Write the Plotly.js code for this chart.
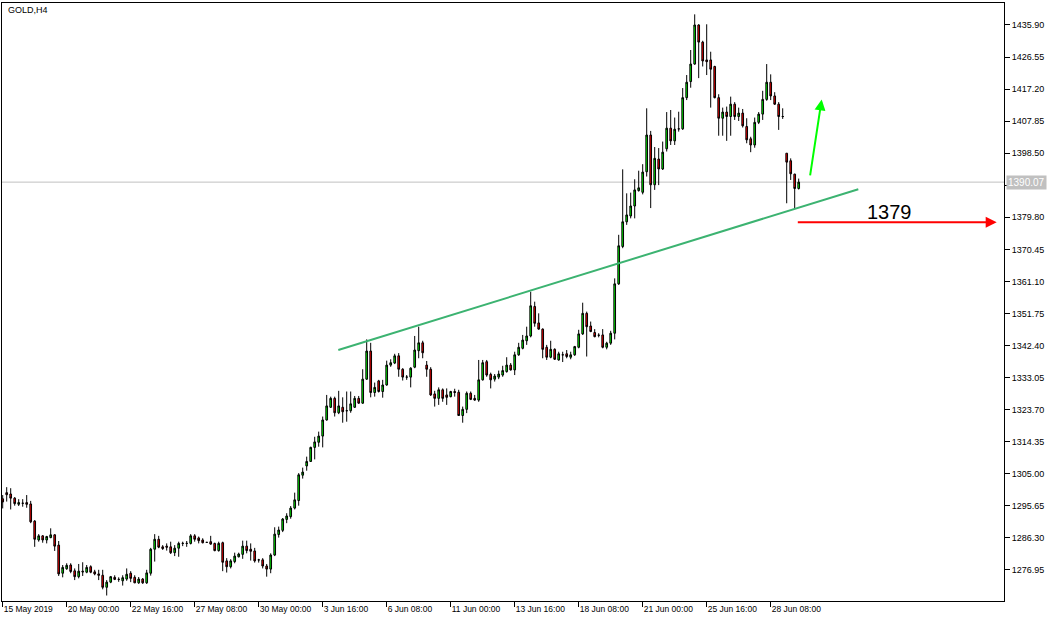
<!DOCTYPE html>
<html>
<head>
<meta charset="utf-8">
<script src="https://cdn.plot.ly/plotly-3.0.1.min.js"></script>
<style>
  html, body { margin: 0; padding: 0; background: #ffffff; }
  #chart { width: 1057px; height: 622px; }
</style>
</head>
<body>
<div id="chart"></div>
<script>
// ---- DATA (GOLD, H4) ----
const openP = [
1297.7,1299.5,1299.1,1297.9,1296.1,1296.4,1296.6,1296.2,1291.2,1285.7,
1286.9,1285.7,1286.4,1287.2,1284.2,1276.0,1277.3,1278.4,1276.7,1275.0,
1276.6,1276.3,1277.9,1276.4,1275.8,1275.4,1271.9,1273.4,1274.8,1274.2,
1273.8,1274.3,1276.0,1274.8,1273.2,1274.3,1273.2,1276.0,1283.0,1285.9,
1283.7,1283.9,1283.7,1282.0,1283.3,1284.7,1284.7,1284.7,1286.9,1286.3,
1285.7,1285.0,1285.2,1284.7,1282.6,1284.9,1279.6,1277.9,1279.4,1280.8,
1281.5,1283.9,1283.0,1282.5,1279.9,1279.9,1278.1,1277.2,1281.3,1287.3,
1288.5,1291.7,1292.5,1295.0,1297.2,1304.6,1307.3,1308.6,1312.7,1314.2,
1316.0,1320.7,1324.4,1327.0,1322.8,1324.4,1323.4,1323.4,1324.4,1327.0,
1325.6,1332.6,1340.8,1328.7,1332.1,1329.0,1330.9,1336.7,1337.3,1339.4,
1335.5,1333.2,1333.2,1336.1,1340.9,1343.2,1336.7,1335.5,1328.3,1327.0,
1329.5,1328.0,1327.5,1329.0,1328.8,1322.0,1323.8,1328.5,1327.0,1326.5,
1332.4,1337.7,1334.0,1332.6,1333.2,1333.8,1334.8,1336.7,1335.3,1339.7,
1341.6,1343.8,1345.2,1353.8,1349.0,1347.2,1341.9,1339.0,1341.3,1338.2,
1339.7,1340.0,1339.0,1339.7,1341.9,1345.8,1351.8,1348.1,1346.2,1345.4,
1345.5,1341.9,1343.1,1346.0,1360.4,1371.3,1378.5,1380.2,1383.1,1387.6,
1387.1,1393.1,1403.8,1389.3,1396.8,1393.9,1399.8,1405.8,1402.1,1405.6,
1405.6,1414.7,1419.4,1424.5,1435.9,1430.9,1425.7,1425.7,1423.8,1414.7,
1408.7,1410.5,1409.2,1412.8,1409.2,1410.2,1406.3,1402.7,1400.9,1407.5,
1409.9,1414.2,1419.2,1415.2,1412.8,1409.2,1398.5,1396.3,1392.4,1388.2
];
const highP = [
1298.8,1301.1,1300.8,1298.2,1297.6,1297.6,1298.8,1297.1,1291.5,1287.4,
1287.1,1286.9,1289.1,1287.4,1285.4,1278.4,1278.9,1278.9,1277.4,1278.7,
1279.2,1278.4,1278.3,1277.0,1277.0,1277.0,1274.0,1275.2,1275.4,1274.8,
1275.4,1277.4,1276.6,1275.4,1274.9,1274.6,1277.0,1283.4,1287.4,1286.9,
1284.2,1284.7,1285.2,1284.2,1285.2,1285.2,1285.4,1287.4,1287.4,1286.7,
1286.2,1285.1,1286.9,1284.9,1285.2,1285.2,1280.4,1280.1,1282.0,1282.0,
1285.5,1285.5,1284.7,1283.4,1280.2,1280.4,1278.7,1281.8,1289.4,1289.6,
1292.1,1293.5,1295.6,1299.5,1305.2,1306.8,1310.0,1312.9,1315.8,1317.3,
1321.7,1328.0,1327.5,1327.5,1329.2,1327.3,1329.0,1329.0,1327.7,1327.7,
1335.5,1344.2,1343.2,1331.6,1332.4,1332.4,1338.0,1338.4,1340.0,1340.2,
1335.8,1333.8,1336.1,1345.2,1347.9,1343.8,1337.9,1336.1,1329.2,1330.2,
1329.9,1329.9,1329.2,1329.8,1329.5,1324.6,1329.0,1329.0,1328.0,1338.2,
1338.2,1338.2,1334.5,1334.1,1335.1,1336.5,1339.0,1337.3,1340.6,1343.2,
1345.5,1347.9,1358.1,1355.2,1351.8,1347.4,1342.6,1343.8,1341.6,1340.6,
1340.6,1341.1,1340.6,1342.3,1347.0,1354.9,1352.3,1349.4,1347.2,1346.0,
1347.2,1343.5,1346.7,1362.0,1374.7,1393.8,1386.8,1387.0,1390.9,1393.4,
1395.3,1411.6,1405.0,1400.3,1400.0,1401.9,1410.5,1411.1,1408.9,1410.6,
1417.5,1421.3,1428.6,1439.0,1436.1,1431.3,1436.1,1428.1,1424.0,1415.7,
1411.8,1412.1,1415.0,1413.4,1411.8,1411.4,1408.7,1403.3,1408.9,1410.5,
1416.7,1424.5,1421.5,1416.3,1413.4,1411.6,1398.5,1397.0,1392.5,1391.1
];
const lowP = [
1294.9,1296.9,1294.6,1295.7,1295.6,1295.4,1295.1,1290.6,1283.7,1285.2,
1284.9,1284.7,1286.2,1282.5,1275.2,1274.8,1277.0,1276.0,1274.0,1274.5,
1275.2,1276.0,1276.0,1275.4,1274.0,1271.3,1269.5,1273.1,1274.0,1273.5,
1272.4,1273.8,1273.4,1273.1,1272.9,1272.9,1272.9,1275.3,1279.4,1283.3,
1282.8,1282.6,1281.6,1281.0,1280.8,1283.9,1283.7,1284.4,1285.2,1284.7,
1284.7,1284.9,1284.3,1282.4,1282.3,1276.6,1276.2,1277.4,1278.9,1280.6,
1280.2,1281.8,1279.7,1279.1,1279.1,1277.4,1275.0,1276.0,1281.0,1286.4,
1288.0,1290.6,1291.9,1294.6,1295.7,1303.6,1305.9,1308.5,1309.2,1312.9,
1312.7,1320.5,1324.2,1321.7,1322.4,1319.9,1320.2,1322.8,1324.2,1325.4,
1325.4,1332.4,1327.3,1327.5,1328.7,1327.2,1330.7,1336.2,1337.0,1333.3,
1332.2,1332.4,1330.2,1335.8,1338.7,1338.7,1333.3,1327.7,1324.6,1325.1,
1326.0,1325.1,1327.3,1327.5,1321.9,1319.9,1322.7,1326.5,1326.3,1326.0,
1332.2,1333.3,1329.9,1331.9,1332.6,1333.3,1334.5,1335.1,1333.8,1339.4,
1341.3,1342.6,1344.8,1347.9,1347.0,1338.7,1338.2,1338.7,1338.2,1338.0,
1337.6,1338.7,1338.4,1339.4,1341.6,1345.5,1339.2,1346.3,1344.8,1344.8,
1341.6,1341.3,1342.6,1344.2,1360.1,1370.8,1377.6,1379.5,1379.5,1387.3,
1386.5,1391.7,1382.5,1387.8,1389.2,1393.6,1399.0,1400.9,1400.9,1404.8,
1405.3,1414.0,1417.6,1424.3,1420.4,1423.8,1421.3,1411.8,1414.5,1403.6,
1403.6,1402.1,1403.6,1408.2,1407.9,1406.0,1401.4,1398.8,1400.1,1407.0,
1408.2,1413.8,1414.0,1412.6,1405.3,1408.5,1383.9,1390.7,1382.2,1387.9
];
const closeP = [
1296.8,1298.9,1297.9,1296.3,1296.6,1296.4,1296.1,1291.0,1285.9,1286.9,
1285.7,1286.7,1287.2,1283.9,1275.8,1277.7,1278.3,1276.5,1275.0,1276.6,
1276.4,1277.7,1276.3,1275.8,1275.4,1271.9,1273.4,1275.0,1274.2,1274.2,
1274.7,1275.7,1274.5,1273.2,1274.3,1273.2,1276.1,1283.0,1285.9,1283.6,
1283.2,1283.6,1282.0,1283.3,1284.7,1284.7,1284.7,1286.9,1285.9,1285.5,
1284.9,1285.0,1284.5,1282.6,1284.7,1279.2,1277.9,1279.6,1281.0,1281.6,
1283.9,1282.6,1282.4,1279.6,1279.9,1278.1,1277.2,1281.3,1287.4,1288.6,
1291.8,1292.7,1295.0,1297.4,1304.7,1305.5,1308.6,1312.7,1314.3,1316.0,
1320.7,1324.8,1327.0,1322.8,1324.8,1323.1,1323.4,1325.4,1327.0,1325.6,
1332.6,1340.8,1328.7,1330.2,1329.0,1330.9,1336.7,1337.4,1339.4,1335.5,
1333.2,1333.2,1335.8,1341.1,1343.2,1340.3,1335.5,1328.0,1327.0,1329.5,
1327.0,1327.3,1329.0,1328.7,1322.0,1323.8,1328.5,1326.7,1326.5,1332.4,
1337.4,1333.8,1332.4,1333.5,1334.1,1335.1,1336.7,1335.3,1339.7,1341.9,
1344.0,1345.2,1354.0,1348.9,1347.2,1341.3,1339.0,1341.3,1338.4,1340.0,
1339.7,1339.2,1339.7,1342.1,1345.8,1351.8,1347.9,1346.5,1345.0,1345.4,
1341.9,1343.1,1346.0,1360.4,1371.5,1378.5,1380.5,1383.1,1387.8,1388.4,
1393.0,1403.8,1389.3,1397.0,1393.9,1398.8,1405.8,1402.1,1405.5,1405.6,
1414.7,1419.2,1424.5,1435.9,1430.9,1425.4,1425.2,1423.0,1414.7,1408.7,
1410.5,1409.2,1412.8,1409.2,1410.2,1406.5,1402.4,1400.9,1407.5,1409.9,
1414.2,1419.2,1415.2,1412.8,1409.2,1409.2,1395.9,1392.5,1388.2,1390.07
];
const timeTickBars = [0,16,32,48,64,80,96,112,128,144,160,176,192];
const timeTickLabels = ["15 May 2019","20 May 00:00","22 May 16:00","27 May 08:00","30 May 00:00",
  "3 Jun 16:00","6 Jun 08:00","11 Jun 00:00","13 Jun 16:00","18 Jun 08:00",
  "21 Jun 00:00","25 Jun 16:00","28 Jun 08:00"];
const priceTicks = [1435.90,1426.55,1417.20,1407.85,1398.50,1389.15,1379.80,1370.45,1361.10,
  1351.75,1342.40,1333.05,1323.70,1314.35,1305.00,1295.65,1286.30,1276.95];
const hiddenTick = 1389.15;   // covered by the current-price label in the reference
const lastPrice = 1390.07;
const levelText = "1379";
const levelPrice = 1378.4;
const trendStart = {bar: 83.9, price: 1341.1};
const trendEnd = {bar: 213.9, price: 1388.0};
const greenArrow = {fromBar: 201.8, fromPrice: 1391.6, toBar: 204.75, toPrice: 1414.2};
const redArrow = {fromBar: 198.4, toBar: 248.5};
const levelLabelPos = {bar: 221.8, price: 1381.4};

// ---- CHART ----
const barIdx = openP.map((_, i) => i);
const fontFam = 'Tahoma, "Liberation Sans", Arial, sans-serif';

const trace = {
  type: 'candlestick',
  x: barIdx,
  open: openP, high: highP, low: lowP, close: closeP,
  increasing: {line: {color: '#000000', width: 1}, fillcolor: '#00ff00'},
  decreasing: {line: {color: '#000000', width: 1}, fillcolor: '#ff0000'},
  whiskerwidth: 0,
  hoverinfo: 'skip',
  showlegend: false
};

const layout = {
  width: 1057, height: 622,
  margin: {l: 2, r: 53, t: 3, b: 21, pad: 0},
  paper_bgcolor: '#ffffff', plot_bgcolor: '#ffffff',
  boxgap: 0.4,
  showlegend: false,
  xaxis: {
    type: 'linear',
    range: [-0.175, 250.325],
    fixedrange: true,
    rangeslider: {visible: false},
    showgrid: false, zeroline: false,
    showline: true, linecolor: '#000000', linewidth: 1, mirror: true,
    ticks: 'outside', ticklen: 5, tickcolor: '#000000', tickwidth: 1,
    tickmode: 'array', tickvals: timeTickBars, ticktext: timeTickLabels,
    ticklabelposition: 'outside right',
    tickfont: {family: fontFam, size: 8.5, color: '#000000'}
  },
  yaxis: {
    range: [1267.90, 1442.31],
    fixedrange: true,
    side: 'right',
    showgrid: false, zeroline: false,
    showline: true, linecolor: '#000000', linewidth: 1, mirror: true,
    ticks: 'outside', ticklen: 5, tickcolor: '#000000', tickwidth: 1,
    tickmode: 'array', tickvals: priceTicks,
    ticktext: priceTicks.map(v => v === hiddenTick ? '' : v.toFixed(2)),
    tickfont: {family: fontFam, size: 9, color: '#000000'}
  },
  shapes: [
    {type: 'line', xref: 'paper', x0: 0, x1: 1, yref: 'y', y0: lastPrice, y1: lastPrice,
     line: {color: '#c0c0c0', width: 1}, layer: 'below'},
    {type: 'line', xref: 'x', yref: 'y', x0: trendStart.bar, y0: trendStart.price,
     x1: trendEnd.bar, y1: trendEnd.price, line: {color: '#3cb371', width: 2}, layer: 'above'}
  ],
  annotations: [
    {xref: 'paper', yref: 'paper', x: 0.004, y: 0.988, xanchor: 'left', yanchor: 'middle',
     text: 'GOLD,H4', showarrow: false, font: {family: fontFam, size: 9, color: '#000000'}},
    {xref: 'paper', yref: 'y', x: 1, y: lastPrice, xanchor: 'left', yanchor: 'middle', xshift: 2,
     text: lastPrice.toFixed(2), showarrow: false, bgcolor: '#c0c0c0', borderpad: 1,
     font: {family: fontFam, size: 10, color: '#ffffff'}},
    {xref: 'x', yref: 'y', x: levelLabelPos.bar, y: levelLabelPos.price, text: levelText,
     showarrow: false, font: {family: '"Liberation Sans", Arial, sans-serif', size: 20, color: '#000000'}},
    {xref: 'x', yref: 'y', x: redArrow.toBar, y: levelPrice, axref: 'x', ayref: 'y',
     ax: redArrow.fromBar, ay: levelPrice, text: '', showarrow: true,
     arrowhead: 2, arrowsize: 1.1, arrowwidth: 2, arrowcolor: '#ff0000', standoff: 0, startstandoff: 0},
    {xref: 'x', yref: 'y', x: greenArrow.toBar, y: greenArrow.toPrice, axref: 'x', ayref: 'y',
     ax: greenArrow.fromBar, ay: greenArrow.fromPrice, text: '', showarrow: true,
     arrowhead: 2, arrowsize: 1.1, arrowwidth: 2, arrowcolor: '#00ff00', standoff: 0, startstandoff: 0}
  ]
};

Plotly.newPlot('chart', [trace], layout, {staticPlot: true, displayModeBar: false});
</script>
</body>
</html>
